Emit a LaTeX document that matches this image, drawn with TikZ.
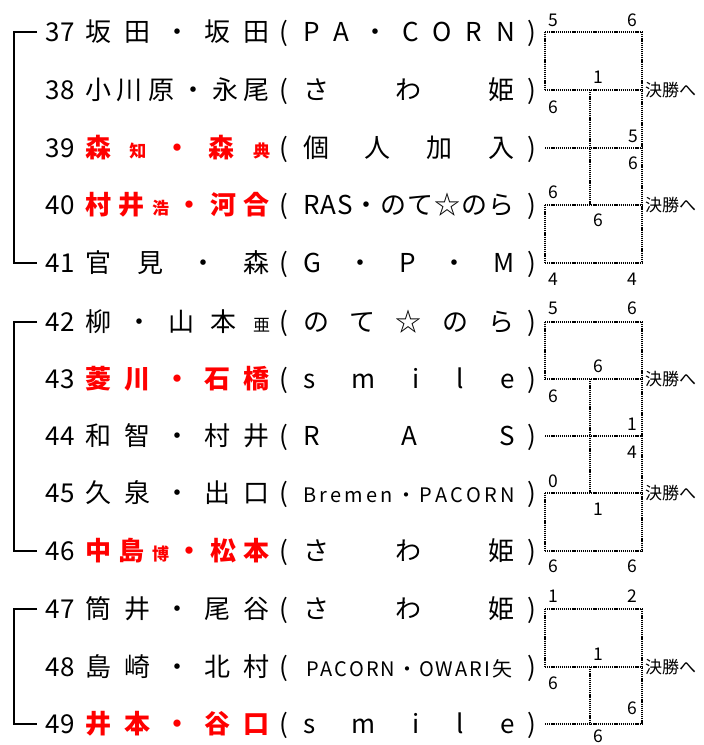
\documentclass[tikz,border=0pt]{standalone}
\usepackage{fontspec}
\setmainfont{Noto Sans CJK JP}
\makeatletter
\newcommand\sprd[2]{\makebox[#1][s]{\@tfor\sp@ch:=#2\do{{\sp@ch}\hfil}\unskip}}
\makeatother
\newcommand\sm[1]{{\fontsize{17}{17}\selectfont #1}}
\newcommand\entry[5]{%
  \coordinate (a#1) at (545,#2);
  \coordinate (m#1) at (590,#2);
  \coordinate (b#1) at (642,#2);
  \node[num] (n#1) at (75,#2+9.5) {#1};
  \node[nm,#4] (p#1) at (177.5,#2+9.5) {\sprd{185pt}{#3}};
  \node[par] (lp#1) at (279,#2+9.5) {(};
  \node[nm] (t#1) at (409,#2+9.5) {#5};
  \node[par] (rp#1) at (527,#2+9.5) {)};
}
\begin{document}
\begin{tikzpicture}[x=1pt,y=-1pt,
  num/.style={anchor=base east,inner sep=0,font=\fontsize{26}{26}\selectfont},
  nm/.style={anchor=base,inner sep=0,font=\fontsize{26}{26}\selectfont},
  par/.style={anchor=base west,inner sep=0,font=\fontsize{26}{26}\selectfont},
  rd/.style={text=red,font=\fontsize{26}{26}\selectfont\bfseries},
  sc/.style={inner sep=0,font=\fontsize{17.5}{17.5}\selectfont},
  fin/.style={anchor=west,inner sep=0,font=\fontsize{17}{17}\selectfont},
  thk/.style={line width=2.6pt,dash pattern=on 1.2pt off 0.9pt},
  thn/.style={line width=1.7pt,dash pattern=on 1.2pt off 0.9pt},
  brk/.style={line width=2pt}]
\useasboundingbox (0,0) rectangle (704,745);
\entry{37}{32}{坂田・坂田}{}{\sprd{212pt}{PA・CORN}}
\entry{38}{90}{小川原・永尾}{}{\sprd{212pt}{さわ姫}}
\entry{39}{148}{森{\sm{知}}・森{\sm{典}}}{rd}{\sprd{212pt}{個人加入}}
\entry{40}{205}{村井{\sm{浩}}・河合}{rd}{\sprd{212pt}{RAS・のて☆のら}}
\entry{41}{263}{官見・森}{}{\sprd{212pt}{G・P・M}}
\entry{42}{322}{柳・山本{\sm{亜}}}{}{\sprd{212pt}{のて☆のら}}
\entry{43}{379}{菱川・石橋}{rd}{\sprd{212pt}{smile}}
\entry{44}{436}{和智・村井}{}{\sprd{212pt}{RAS}}
\entry{45}{493}{久泉・出口}{}{\fontsize{20}{20}\selectfont\sprd{212pt}{Bremen・PACORN}}
\entry{46}{551}{中島{\sm{博}}・松本}{rd}{\sprd{212pt}{さわ姫}}
\entry{47}{609}{筒井・尾谷}{}{\sprd{212pt}{さわ姫}}
\entry{48}{667}{島崎・北村}{}{\fontsize{20}{20}\selectfont\sprd{206pt}{PACORN・OWARI矢}}
\entry{49}{724}{井本・谷口}{rd}{\sprd{212pt}{smile}}
% left brackets
\foreach \r/\y in {37/32,41/263,42/322,46/551,47/609,49/724}{
  \coordinate (k\r) at (37,\y);
  \coordinate (c\r) at (14,\y);
}
\draw[brk] (k37) -- (c37) -- (c41) -- (k41);
\draw[brk] (k42) -- (c42) -- (c46) -- (k46);
\draw[brk] (k47) -- (c47) -- (c49) -- (k49);
% group 1
\draw[thn] (b37) -- (b41);
\draw[thn] (a39) -- (b39);
\draw[thn] (a40) -- (a41);
\draw[thk] (a37) -- (b37);
\draw[thk] (a37) -- (a38);
\draw[thk] (a38) -- (b38);
\draw[thk] (m38) -- (m40);
\draw[thk] (a40) -- (b40);
\draw[thk] (a41) -- (b41);
% group 2
\draw[thn] (b42) -- (b46);
\draw[thn] (a44) -- (b44);
\draw[thn] (a45) -- (a46);
\draw[thk] (a42) -- (b42);
\draw[thk] (a42) -- (a43);
\draw[thk] (a43) -- (b43);
\draw[thk] (m43) -- (m45);
\draw[thk] (a45) -- (b45);
\draw[thk] (a46) -- (b46);
% group 3
\draw[thn] (b47) -- (b49);
\draw[thn] (a49) -- (b49);
\draw[thk] (a47) -- (b47);
\draw[thk] (a47) -- (a48);
\draw[thk] (a48) -- (b48);
\draw[thk] (m48) -- (m49);
% scores
\foreach \x/\y/\t [count=\i] in {553/20/5,632/20/6,598/77/1,553/107/6,633/136/5,633/163/6,553/192/6,598/220/6,553/279/4,632/279/4,
  553/308/5,632/308/6,598/366/6,553/396/6,632/424/1,632/452/4,553/481/0,598/509/1,553/566/6,632/566/6,
  553/596/1,632/596/2,598/654/1,553/683/6,632/708/6,598/736/6}
  \node[sc] (s\i) at (\x,\y) {\t};
\foreach \r in {38,40,43,45,48}
  \node[fin] (f\r) at ([xshift=3pt]b\r) {決勝へ};
\end{tikzpicture}
\end{document}
